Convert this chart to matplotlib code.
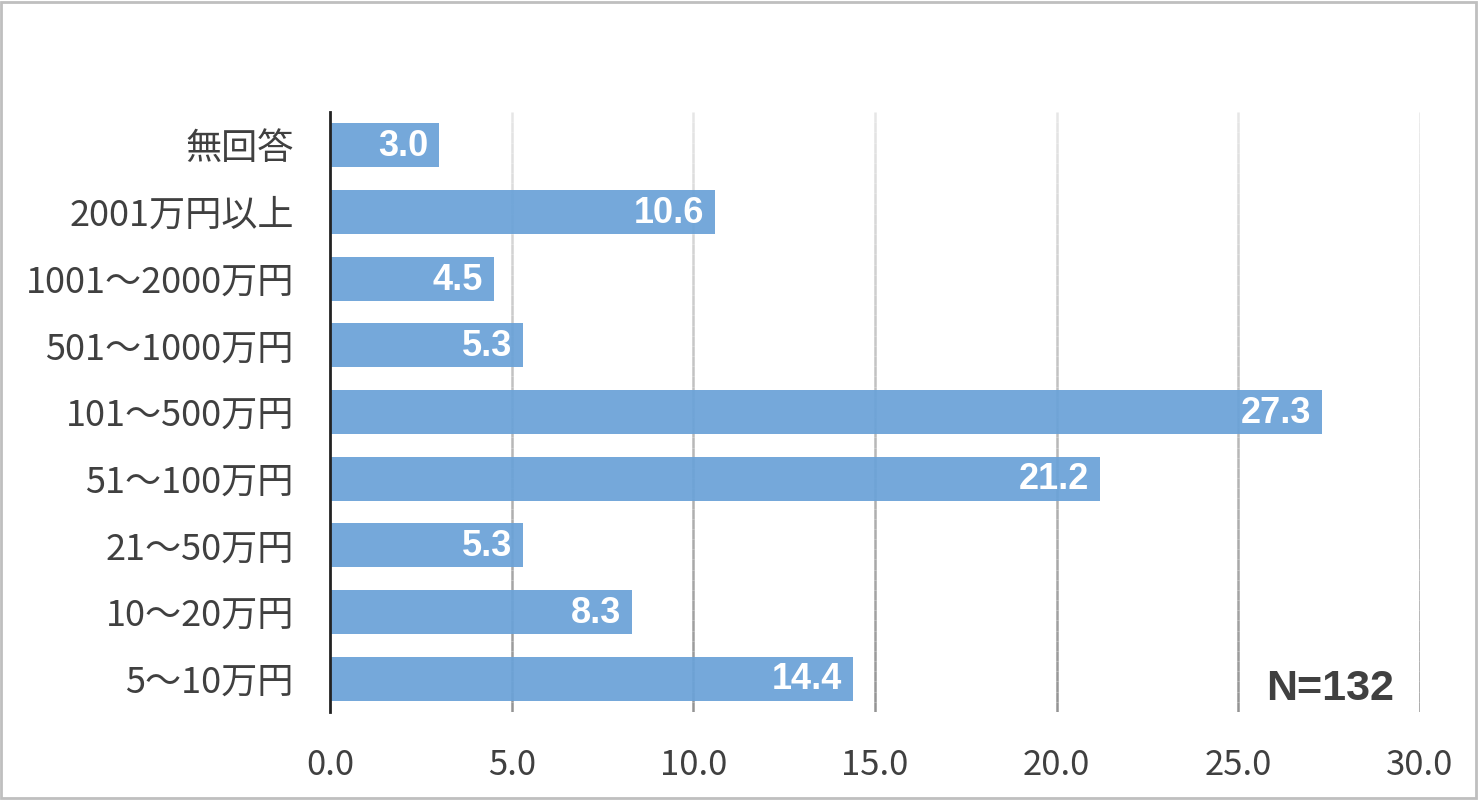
import numpy as np
import matplotlib.pyplot as plt
from matplotlib.collections import LineCollection

plt.rcParams['font.family'] = ['Noto Sans CJK JP', 'DejaVu Sans']

# data (top to bottom as shown)
categories = ['無回答', '2001万円以上', '1001～2000万円', '501～1000万円',
              '101～500万円', '51～100万円', '21～50万円', '10～20万円', '5～10万円']
values = [3.0, 10.6, 4.5, 5.3, 27.3, 21.2, 5.3, 8.3, 14.4]
x_ticks = [0, 5, 10, 15, 20, 25, 30]
n_label = 'N=132'

bar_color = '#6aa2d8'
text_color = '#404040'

fig = plt.figure(figsize=(14.79, 8), dpi=100)
ax = fig.add_axes([330 / 1479, 1 - 712 / 800, 1090 / 1479, 600 / 800])

y = np.arange(len(categories))
ax.set_ylim(len(categories) - 0.5, -0.5)
ax.set_xlim(0, 30)

# gridlines fading from light at top to darker at bottom
ys = np.linspace(-0.5, len(categories) - 0.5, 60)
light = np.array([0.90, 0.90, 0.90])
dark = np.array([0.58, 0.58, 0.58])
for t in x_ticks[1:]:
    segs = [[(t, ys[i]), (t, ys[i + 1])] for i in range(len(ys) - 1)]
    fr = np.linspace(0, 1, len(segs))[:, None]
    cols = light * (1 - fr) + dark * fr
    ax.add_collection(LineCollection(segs, colors=cols, linewidths=1.8, zorder=1))

ax.barh(y, values, height=0.66, color=bar_color, alpha=0.93, zorder=3)

for yi, v in zip(y, values):
    ax.text(v - 0.3, yi + 0.02, f'{v:.1f}', ha='right', va='center', color='white',
            fontsize=26, fontweight='bold', family=['Liberation Sans', 'DejaVu Sans'], zorder=4)

ax.set_yticks(y)
ax.set_yticklabels(categories, fontsize=26, color=text_color)
ax.set_xticks(x_ticks)
ax.set_xticklabels([f'{t:.1f}' for t in x_ticks], fontsize=25, color=text_color)
ax.tick_params(length=0)
ax.tick_params(axis='y', pad=26)
ax.tick_params(axis='x', pad=26)

for s in ['top', 'right', 'bottom']:
    ax.spines[s].set_visible(False)
ax.spines['left'].set_color('#222222')
ax.spines['left'].set_linewidth(2)
ax.spines['left'].set_zorder(5)

ax.text(29.3, 8.15, n_label, ha='right', va='center', fontsize=31, fontweight='bold',
        color=text_color, family=['Liberation Sans', 'DejaVu Sans'], zorder=6)

# figure border
fig.patches.append(plt.Rectangle((0.001, 0.002), 0.997, 0.996, transform=fig.transFigure,
                                 fill=False, edgecolor='#bfbfbf', linewidth=2))

fig.savefig('out.png', dpi=100)
